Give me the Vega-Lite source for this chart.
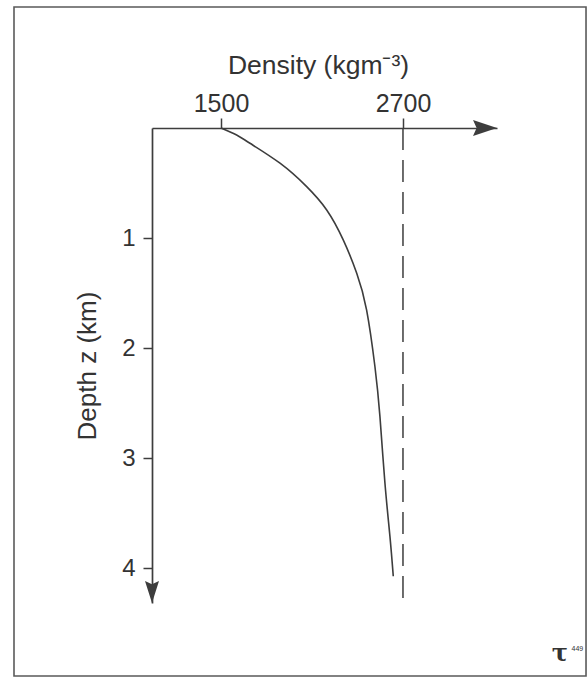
{
  "$schema": "https://vega.github.io/schema/vega-lite/v6.json",
  "width": 345,
  "height": 475,
  "autosize": {"type": "none"},
  "padding": {"left": 152, "top": 128, "right": 91, "bottom": 75},
  "background": "white",
  "config": {
    "view": {"stroke": null},
    "font": "Liberation Sans",
    "axis": {
      "labelFont": "Liberation Sans",
      "titleFont": "Liberation Sans",
      "labelColor": "#333",
      "titleColor": "#333",
      "titleFontWeight": "normal",
      "domainColor": "#3d3d3d",
      "tickColor": "#3d3d3d",
      "domainWidth": 1.7,
      "tickWidth": 1.5,
      "grid": false
    }
  },
  "encoding": {
    "x": {
      "field": "density",
      "type": "quantitative",
      "scale": {"domain": [1045, 3320], "nice": false, "zero": false},
      "axis": {
        "orient": "top",
        "values": [1500, 2700],
        "format": "d",
        "tickSize": 10,
        "labelFontSize": 25,
        "labelPadding": 2,
        "title": "Density (kgm⁻³)",
        "titleFontSize": 26.5,
        "titlePadding": 12,
        "titleX": 166
      }
    },
    "y": {
      "field": "depth",
      "type": "quantitative",
      "scale": {"domain": [0, 4.318], "reverse": true, "nice": false, "zero": false},
      "axis": {
        "orient": "left",
        "values": [1, 2, 3, 4],
        "format": "d",
        "tickSize": 9,
        "labelFontSize": 24,
        "labelPadding": 8,
        "title": "Depth z (km)",
        "titleFontSize": 26,
        "titlePadding": 21
      }
    }
  },
  "layer": [
    {
      "data": {"values": [{"density": 135, "density2": 3907, "depth": -1.1, "depth2": 4.982}]},
      "mark": {"type": "rect", "filled": false, "stroke": "#5a5a5a", "strokeWidth": 1.6},
      "encoding": {
        "x2": {"field": "density2"},
        "y2": {"field": "depth2"}
      }
    },
    {
      "data": {"values": [
        {"density": 1500, "depth": 0},
        {"density": 1603, "depth": 0.064},
        {"density": 1691, "depth": 0.139},
        {"density": 1889, "depth": 0.32},
        {"density": 2065, "depth": 0.533},
        {"density": 2197, "depth": 0.745},
        {"density": 2306, "depth": 1.017},
        {"density": 2395, "depth": 1.32},
        {"density": 2460, "depth": 1.653},
        {"density": 2515, "depth": 2.168},
        {"density": 2548, "depth": 2.622},
        {"density": 2581, "depth": 3.227},
        {"density": 2614, "depth": 3.712},
        {"density": 2636, "depth": 4.075}
      ]},
      "mark": {"type": "line", "interpolate": "natural", "stroke": "#3d3d3d", "strokeWidth": 1.6}
    },
    {
      "data": {"values": [{"density": 2700, "depth": 0, "depth2": 4.29}]},
      "mark": {"type": "rule", "stroke": "#3d3d3d", "strokeWidth": 1.5, "strokeDash": [22, 10]},
      "encoding": {"y2": {"field": "depth2"}}
    },
    {
      "data": {"values": [{"density": 3241, "depth": 0}]},
      "mark": {"type": "point", "filled": true, "color": "#3d3d3d", "opacity": 1, "size": 576, "shape": "M-1,-0.667L1,0L-1,0.667L-0.7,0Z", "strokeWidth": 0}
    },
    {
      "data": {"values": [{"density": 1045, "depth": 4.218}]},
      "mark": {"type": "point", "filled": true, "color": "#3d3d3d", "opacity": 1, "size": 484, "shape": "M-0.636,-1L0,1L0.636,-1L0,-0.7Z", "strokeWidth": 0}
    },
    {
      "data": {"values": [{"density": 3735, "depth": 4.78, "label": "τ"}]},
      "mark": {"type": "text", "font": "DejaVu Serif", "fontSize": 24, "fontWeight": "bold", "fill": "#333", "baseline": "middle", "align": "center"},
      "encoding": {"text": {"field": "label"}}
    },
    {
      "data": {"values": [{"density": 3850, "depth": 4.74, "label": "449"}]},
      "mark": {"type": "text", "fontSize": 7, "fill": "#333", "baseline": "middle", "align": "center"},
      "encoding": {"text": {"field": "label"}}
    }
  ]
}
